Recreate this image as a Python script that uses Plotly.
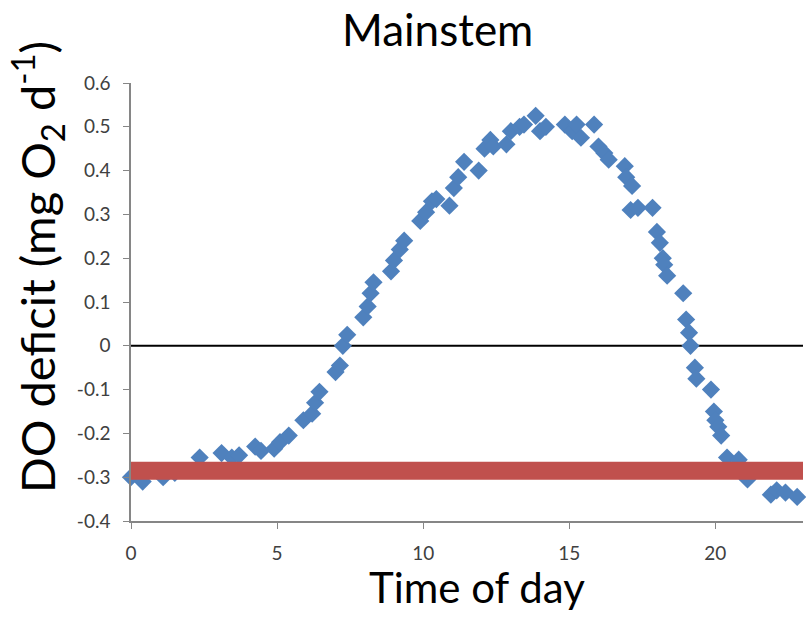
import plotly.graph_objects as go

time_of_day = [0.0, 0.4, 1.1, 1.5, 2.35, 3.1, 3.45, 3.7, 4.25, 4.45, 4.9, 5.1, 5.4, 5.9, 6.2, 6.3, 6.45,
               7.0, 7.15, 7.25, 7.4, 7.95, 8.1, 8.2, 8.3, 8.9, 9.0, 9.2, 9.35, 9.9, 10.1, 10.3, 10.45,
               10.9, 11.05, 11.2, 11.4, 11.9, 12.1, 12.3, 12.4, 12.85, 13.0, 13.3, 13.45, 13.85, 14.0,
               14.2, 14.85, 15.1, 15.25, 15.4, 15.85, 16.0, 16.2, 16.35, 16.9, 16.95, 17.15, 17.1, 17.35,
               17.85, 18.0, 18.1, 18.2, 18.25, 18.35, 18.9, 19.0, 19.1, 19.15, 19.3, 19.35, 19.85, 19.95,
               20.0, 20.1, 20.2, 20.4, 20.8, 21.1, 21.9, 22.1, 22.4, 22.8]
do_deficit = [-0.30, -0.31, -0.30, -0.29, -0.255, -0.245, -0.255, -0.25, -0.23, -0.24, -0.235, -0.22, -0.205,
              -0.17, -0.155, -0.13, -0.105, -0.06, -0.045, 0.0, 0.025, 0.065, 0.09, 0.12, 0.145, 0.17, 0.195,
              0.22, 0.24, 0.285, 0.305, 0.33, 0.335, 0.32, 0.36, 0.385, 0.42, 0.40, 0.45, 0.47, 0.455, 0.46,
              0.49, 0.50, 0.505, 0.525, 0.49, 0.50, 0.505, 0.49, 0.505, 0.475, 0.505, 0.455, 0.44, 0.425,
              0.41, 0.385, 0.365, 0.31, 0.315, 0.315, 0.26, 0.235, 0.20, 0.185, 0.16, 0.12, 0.06, 0.03, 0.0,
              -0.05, -0.075, -0.10, -0.15, -0.17, -0.185, -0.205, -0.255, -0.26, -0.305, -0.34, -0.33, -0.335,
              -0.345]

zero_line_x = [0, 23]
zero_line_y = [0, 0]
ref_line_x = [0, 23]
ref_line_y = [-0.285, -0.285]

x_ticks = [0, 5, 10, 15, 20]
y_ticks = [-0.4, -0.3, -0.2, -0.1, 0, 0.1, 0.2, 0.3, 0.4, 0.5, 0.6]
y_tick_labels = ["-0.4", "-0.3", "-0.2", "-0.1", "0", "0.1", "0.2", "0.3", "0.4", "0.5", "0.6"]

FONT = "Lato, Open Sans, sans-serif"

fig = go.Figure()
fig.add_trace(go.Scatter(x=zero_line_x, y=zero_line_y, mode="lines",
                         line=dict(color="black", width=2), showlegend=False, hoverinfo="skip"))
fig.add_trace(go.Scatter(x=time_of_day, y=do_deficit, mode="markers", cliponaxis=False,
                         marker=dict(symbol="diamond", size=14, color="#4F81BD", line=dict(width=0)),
                         showlegend=False))
fig.add_trace(go.Scatter(x=ref_line_x, y=ref_line_y, mode="lines",
                         line=dict(color="#C0504D", width=18), showlegend=False, hoverinfo="skip"))

axis_font = dict(family=FONT, size=19, color="#404040")
fig.update_layout(
    width=806, height=629,
    margin=dict(l=131, r=3, t=83, b=108),
    paper_bgcolor="white", plot_bgcolor="white",
    xaxis=dict(range=[0, 23], tickmode="array", tickvals=x_ticks, ticks="outside", ticklen=6,
               tickcolor="#868686", showline=True, linecolor="#868686", linewidth=1.5,
               showgrid=False, zeroline=False, tickfont=axis_font, ticklabelstandoff=8),
    yaxis=dict(range=[-0.4, 0.6], tickmode="array", tickvals=y_ticks, ticktext=y_tick_labels,
               ticks="outside", ticklen=6, tickcolor="#868686", showline=True, linecolor="#868686",
               linewidth=1.5, showgrid=False, zeroline=False, tickfont=axis_font, ticklabelstandoff=9),
    annotations=[
        dict(text="Mainstem", xref="paper", yref="paper", x=0.456, y=1.0, yshift=54,
             xanchor="center", yanchor="middle", showarrow=False,
             font=dict(family=FONT, size=44, color="black")),
        dict(text="Time of day", xref="paper", yref="paper", x=0.515, y=0, yshift=-66,
             xanchor="center", yanchor="middle", showarrow=False,
             font=dict(family=FONT, size=42, color="black")),
        dict(text="DO deficit (mg O<sub>2</sub> d<sup>-1</sup>)", xref="paper", yref="paper",
             x=0, xshift=-93, y=0.58, xanchor="center", yanchor="middle", textangle=-90,
             showarrow=False, font=dict(family=FONT, size=47, color="black")),
    ],
)

fig.write_html("out.html")
